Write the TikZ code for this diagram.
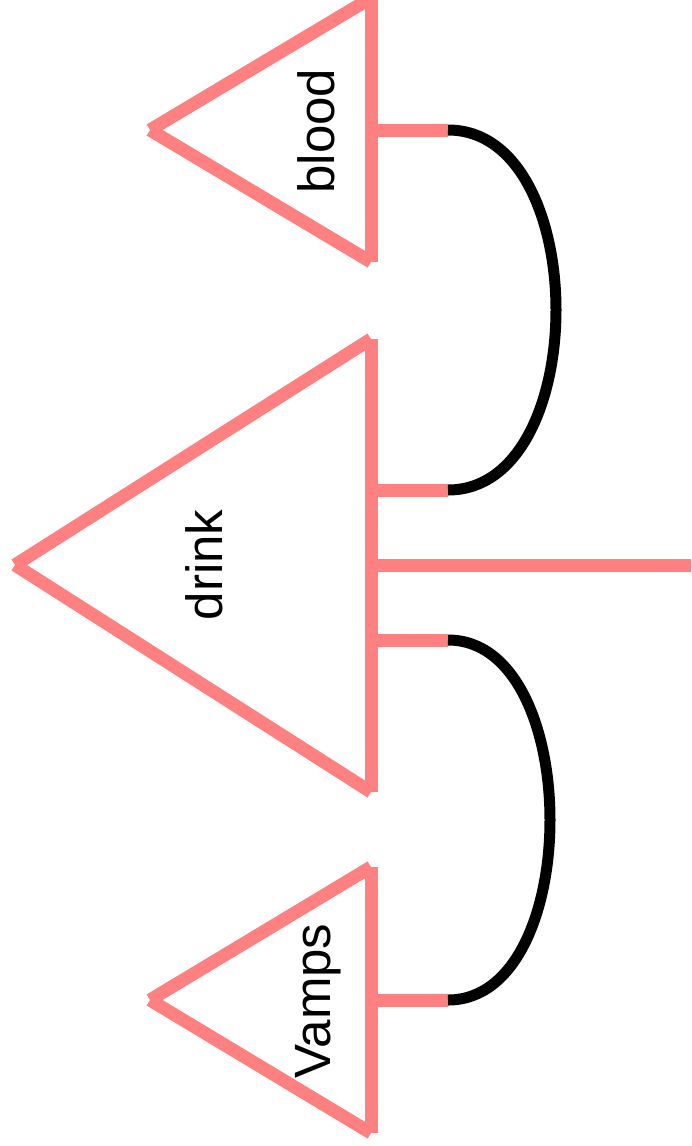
\documentclass[tikz,border=0pt]{standalone}
\usepackage{fontspec}
\setmainfont{Liberation Sans}
\definecolor{wirepink}{HTML}{FF8080}
\begin{document}
\begin{tikzpicture}[x=1pt,y=-1pt,
  pinkline/.style={draw=wirepink,line width=13pt,line cap=butt},
  cupline/.style={draw=black,line width=11pt,line cap=butt},
  boxlabel/.style={rotate=90,anchor=base,inner sep=0pt,font=\fontsize{51}{60}\selectfont}]
\useasboundingbox (0,0) rectangle (691,1146);
% blood
\coordinate (bA) at (150,130);
\coordinate (bT) at (371,-2);
\coordinate (bB) at (371,262);
\coordinate (bW) at (371,130);
\coordinate (bE) at (448,130);
% drink
\coordinate (dA) at (15,565);
\coordinate (dT) at (371,339);
\coordinate (dB) at (371,792);
\coordinate (dW1) at (371,490);
\coordinate (dE1) at (448,490);
\coordinate (dW2) at (371,565);
\coordinate (dE2) at (691,565);
\coordinate (dW3) at (371,640);
\coordinate (dE3) at (448,640);
% Vamps
\coordinate (vA) at (150,1000);
\coordinate (vT) at (371,867);
\coordinate (vB) at (371,1133);
\coordinate (vW) at (371,1000);
\coordinate (vE) at (448,1000);

\draw[pinkline] (bA) -- (bT);
\draw[pinkline] (bA) -- (bB);
\draw[pinkline] (bT) -- (bB);
\draw[pinkline] (dA) -- (dT);
\draw[pinkline] (dA) -- (dB);
\draw[pinkline] (dT) -- (dB);
\draw[pinkline] (vA) -- (vT);
\draw[pinkline] (vA) -- (vB);
\draw[pinkline] (vT) -- (vB);

\draw[pinkline] (bW) -- (bE);
\draw[pinkline] (dW1) -- (dE1);
\draw[pinkline] (dW2) -- (dE2);
\draw[pinkline] (dW3) -- (dE3);
\draw[pinkline] (vW) -- (vE);

\draw[cupline] (bE) .. controls (592,130) and (592,490) .. (dE1);
\draw[cupline] (dE3) .. controls (584,640) and (584,1000) .. (vE);

\node[boxlabel] (blood) at (334,131) {blood};
\node[boxlabel] (drink) at (222,565) {drink};
\node[boxlabel] (vamps) at (330,1001) {Vamps};
\end{tikzpicture}
\end{document}
